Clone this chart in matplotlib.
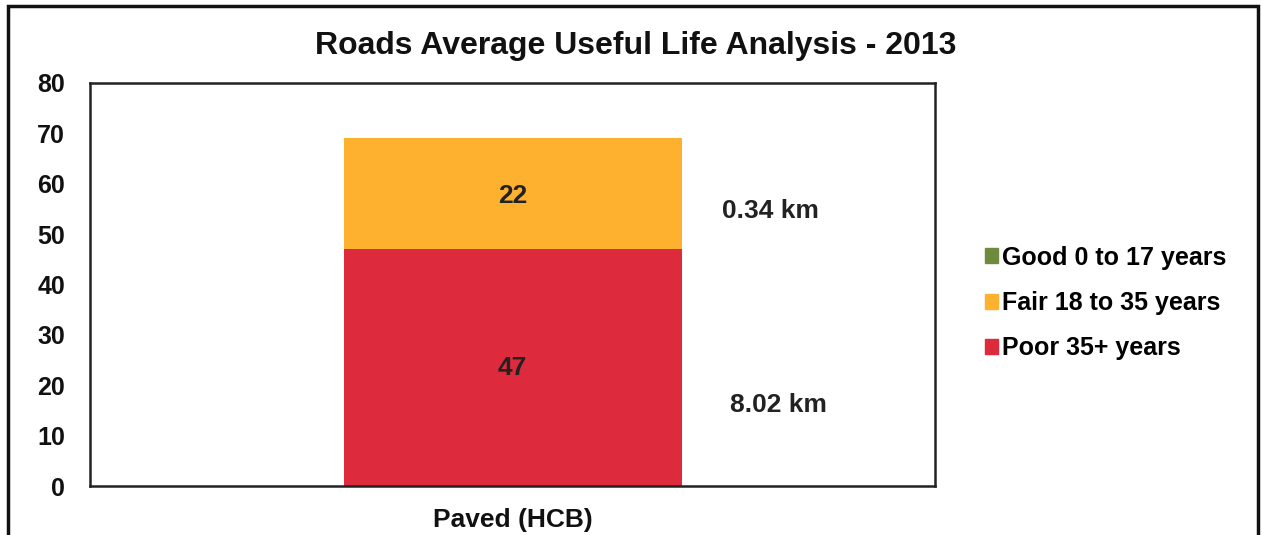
import matplotlib.pyplot as plt
from matplotlib.patches import Rectangle, Patch
import numpy as np

# chart data
categories = ["Paved (HCB)"]
series_names = ["Good 0 to 17 years", "Fair 18 to 35 years", "Poor 35+ years"]
good = [0]
fair = [22]
poor = [47]
km_labels = ["0.34 km", "8.02 km"]
colors = ["#6E8B3D", "#FDB12F", "#DD2A3D"]

plt.rcParams['font.family'] = ['Liberation Sans', 'DejaVu Sans']
plt.rcParams['font.weight'] = 'bold'

fig = plt.figure(figsize=(12.62, 5.35), dpi=100)
ax = fig.add_axes([90 / 1262, 1 - 486 / 535, 845 / 1262, 403 / 535])

x = np.arange(len(categories))
width = 0.8
poor_b = ax.bar(x, poor, width, color=colors[2], label=series_names[2])
fair_b = ax.bar(x, fair, width, bottom=poor, color=colors[1], label=series_names[1])
good_b = ax.bar(x, good, width, bottom=np.array(poor) + np.array(fair), color=colors[0], label=series_names[0])

for i in range(len(categories)):
    ax.text(x[i], poor[i] * 0.5, str(poor[i]), ha='center', va='center', fontsize=19, fontweight='bold', color='#222222')
    ax.text(x[i], poor[i] + fair[i] * 0.48, str(fair[i]), ha='center', va='center', fontsize=19, fontweight='bold', color='#222222')

# km notes to the right of the bar
ax.text(0.61, 54.5, km_labels[0], ha='center', va='center', fontsize=19, fontweight='bold', color='#222222')
ax.text(0.63, 16, km_labels[1], ha='center', va='center', fontsize=19, fontweight='bold', color='#222222')

ax.set_xlim(-1, 1)
ax.set_ylim(0, 80)
ax.set_yticks(range(0, 81, 10))
ax.set_xticks(x)
ax.set_xticklabels(categories)
ax.tick_params(length=0, labelsize=18)
ax.tick_params(axis='y', pad=18)
ax.tick_params(axis='x', pad=16, labelsize=19)
for lbl in ax.get_xticklabels() + ax.get_yticklabels():
    lbl.set_fontweight('bold')
    lbl.set_color('#111111')
for s in ax.spines.values():
    s.set_linewidth(1.8)
    s.set_color('#222222')

fig.text(636 / 1262, 1 - 46 / 535, "Roads Average Useful Life Analysis - 2013", ha='center', va='center', fontsize=23, fontweight='bold', color='#111111')

handles = [Patch(color=colors[0]), Patch(color=colors[1]), Patch(color=colors[2])]
fig.legend(handles, series_names, loc='center left', bbox_to_anchor=(962 / 1262, 1 - 303 / 535), frameon=False,
           handlelength=0.55, handleheight=0.55, handletextpad=0.15, labelspacing=0.85,
           prop={'weight': 'bold', 'size': 18})

# outer frame of the chart
fig.patches.append(Rectangle((8 / 1262, -0.02), 1250 / 1262, 1 - 6 / 535 + 0.02, transform=fig.transFigure,
                             fill=False, edgecolor='#111111', linewidth=2.5))

fig.savefig("out.png", dpi=100)
